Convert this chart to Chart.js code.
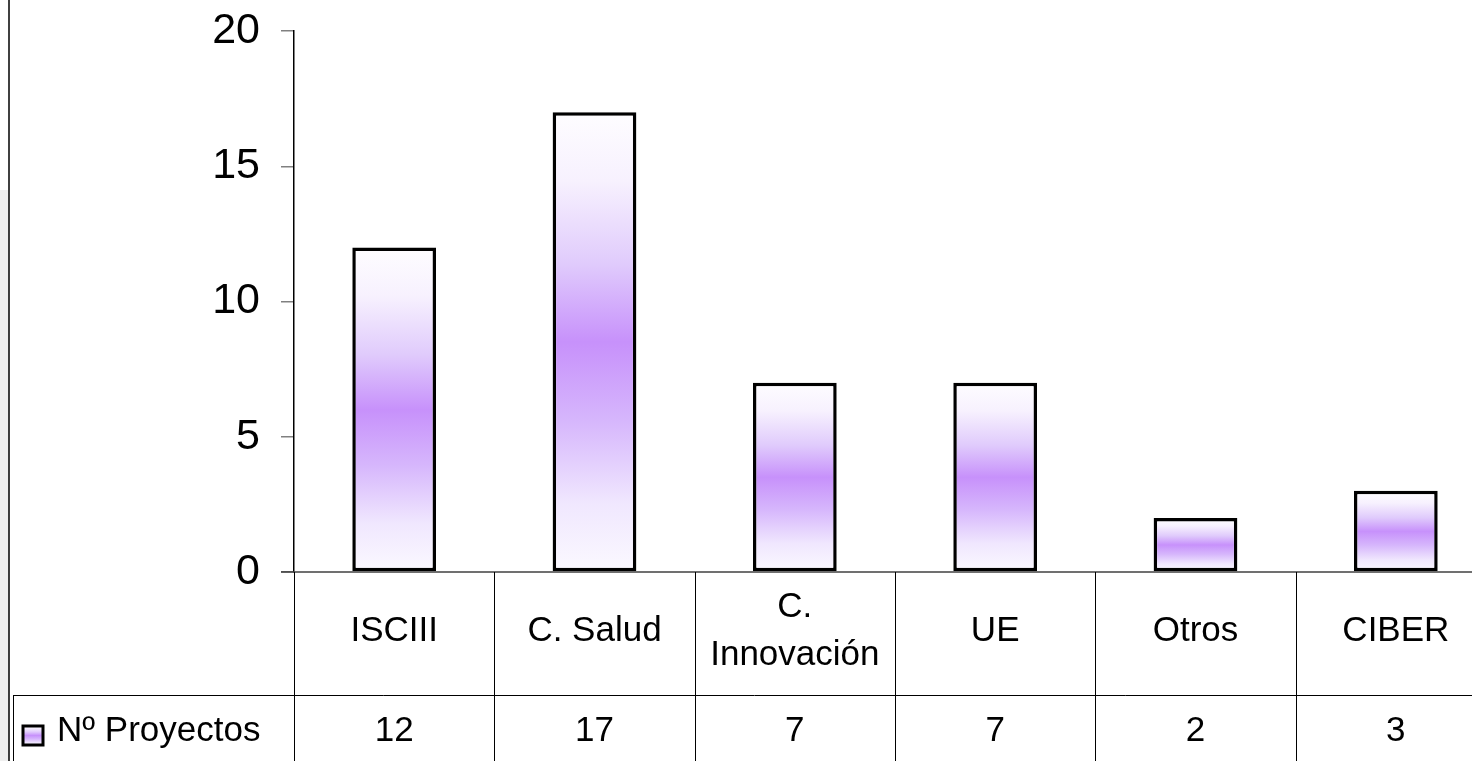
<!DOCTYPE html>
<html>
<head>
<meta charset="utf-8">
<script src="https://cdn.jsdelivr.net/npm/chart.js@4/dist/chart.umd.min.js"></script>
<style>
  html, body { margin: 0; padding: 0; overflow: hidden; background: #fff; }
  #wrap { position: relative; width: 1500px; height: 761px; }
</style>
</head>
<body>
<div id="wrap"><canvas id="c"></canvas></div>
<script>
// ---- data ----
const categories = ['ISCIII', 'C. Salud', 'C. Innovación', 'UE', 'Otros', 'CIBER'];
const seriesName = 'Nº Proyectos';
const projectCounts = [12, 17, 7, 7, 2, 3];
const yTicks = [0, 5, 10, 15, 20];

const FONT = '"Liberation Sans", Arial, sans-serif';

function barGradient(ctx, top, bottom) {
  const g = ctx.createLinearGradient(0, top, 0, bottom);
  g.addColorStop(0, '#fefdff');
  g.addColorStop(0.15, '#f7f1fe');
  g.addColorStop(0.33, '#e0cbfc');
  g.addColorStop(0.5, '#c791fb');
  g.addColorStop(0.67, '#d6b6fc');
  g.addColorStop(0.85, '#f0e7fe');
  g.addColorStop(1, '#fbf9ff');
  return g;
}

const tablePlugin = {
  id: 'dataTable',
  beforeDraw(chart) {
    const ctx = chart.ctx;
    ctx.save();
    ctx.fillStyle = '#ffffff';
    ctx.fillRect(0, 0, chart.width, chart.height);
    ctx.fillStyle = '#efefef';
    ctx.fillRect(0, 190, 9, chart.height - 190);
    ctx.restore();
  },
  afterDraw(chart) {
    const ctx = chart.ctx;
    const xs = chart.scales.x;
    const area = chart.chartArea;
    const n = categories.length;
    const colW = (area.right - area.left) / n;
    const row1Top = area.bottom;
    const row2Top = 695;
    const bottom = chart.height;
    ctx.save();
    ctx.strokeStyle = '#000';
    ctx.lineWidth = 1.5;
    ctx.beginPath();
    ctx.moveTo(9, 0); ctx.lineTo(9, bottom);
    ctx.stroke();
    ctx.strokeStyle = '#404040';
    ctx.lineWidth = 1.5;
    ctx.beginPath();
    ctx.moveTo(area.left - 13, row1Top); ctx.lineTo(area.right, row1Top);
    ctx.stroke();
    ctx.strokeStyle = '#000';
    ctx.lineWidth = 1;
    ctx.beginPath();
    for (let i = 0; i <= n; i++) {
      const x = Math.round(area.left + i * colW) + 0.5;
      ctx.moveTo(x, row1Top); ctx.lineTo(x, bottom);
    }
    ctx.moveTo(13, row2Top + 0.5); ctx.lineTo(area.right, row2Top + 0.5);
    ctx.moveTo(13.5, row2Top); ctx.lineTo(13.5, bottom);
    ctx.stroke();

    ctx.fillStyle = '#000';
    ctx.textAlign = 'center';
    ctx.textBaseline = 'middle';
    ctx.font = '35px ' + FONT;
    const lineH = 48;
    categories.forEach((cat, i) => {
      const cx = xs.getPixelForValue(i);
      const words = cat.split(' ');
      const lines = [];
      let cur = '';
      words.forEach(w => {
        const t = cur ? cur + ' ' + w : w;
        if (ctx.measureText(t).width > colW - 14 && cur) { lines.push(cur); cur = w; }
        else cur = t;
      });
      if (cur) lines.push(cur);
      const cy = 631;
      lines.forEach((ln, k) => {
        ctx.fillText(ln, cx, cy + (k - (lines.length - 1) / 2) * lineH);
      });
    });
    projectCounts.forEach((v, i) => {
      ctx.fillText(String(v), xs.getPixelForValue(i), 731);
    });
    const g = barGradient(ctx, 725, 746);
    ctx.fillStyle = g;
    ctx.fillRect(23, 726, 20, 19);
    ctx.strokeStyle = '#000';
    ctx.lineWidth = 3;
    ctx.strokeRect(23, 726, 20, 19);
    ctx.fillStyle = '#000';
    ctx.textAlign = 'left';
    ctx.fillText(seriesName, 57, 731);
    ctx.restore();
  }
};

new Chart(document.getElementById('c'), {
  type: 'bar',
  data: {
    labels: categories,
    datasets: [{
      label: seriesName,
      data: projectCounts,
      backgroundColor: (c) => {
        const chart = c.chart;
        if (!chart.chartArea || c.dataIndex === undefined) return '#c892fb';
        const y = chart.scales.y;
        const top = y.getPixelForValue(c.raw);
        const base = y.getPixelForValue(0);
        return barGradient(chart.ctx, top, base);
      },
      borderColor: '#000',
      borderWidth: 3.5,
      borderSkipped: false,
      barPercentage: 0.418,
      categoryPercentage: 1.0
    }]
  },
  options: {
    responsive: true,
    maintainAspectRatio: false,
    animation: false,
    layout: { padding: { top: 31, right: 4, bottom: 189, left: 0 } },
    plugins: { legend: { display: false }, tooltip: { enabled: false } },
    scales: {
      x: { display: false, offset: true },
      y: {
        min: 0, max: 20,
        afterFit(scale) { scale.width = 294; scale.paddingTop = 0; scale.paddingBottom = 0; },
        afterBuildTicks(scale) { scale.ticks = yTicks.map(v => ({ value: v })); },
        ticks: { color: '#000', font: { family: FONT, size: 43 }, padding: 21 },
        grid: { drawOnChartArea: false, tickLength: 13, color: '#808080', lineWidth: 1.5 },
        border: { display: true, color: '#000', width: 1.5 }
      }
    }
  },
  plugins: [tablePlugin]
});
</script>
</body>
</html>
